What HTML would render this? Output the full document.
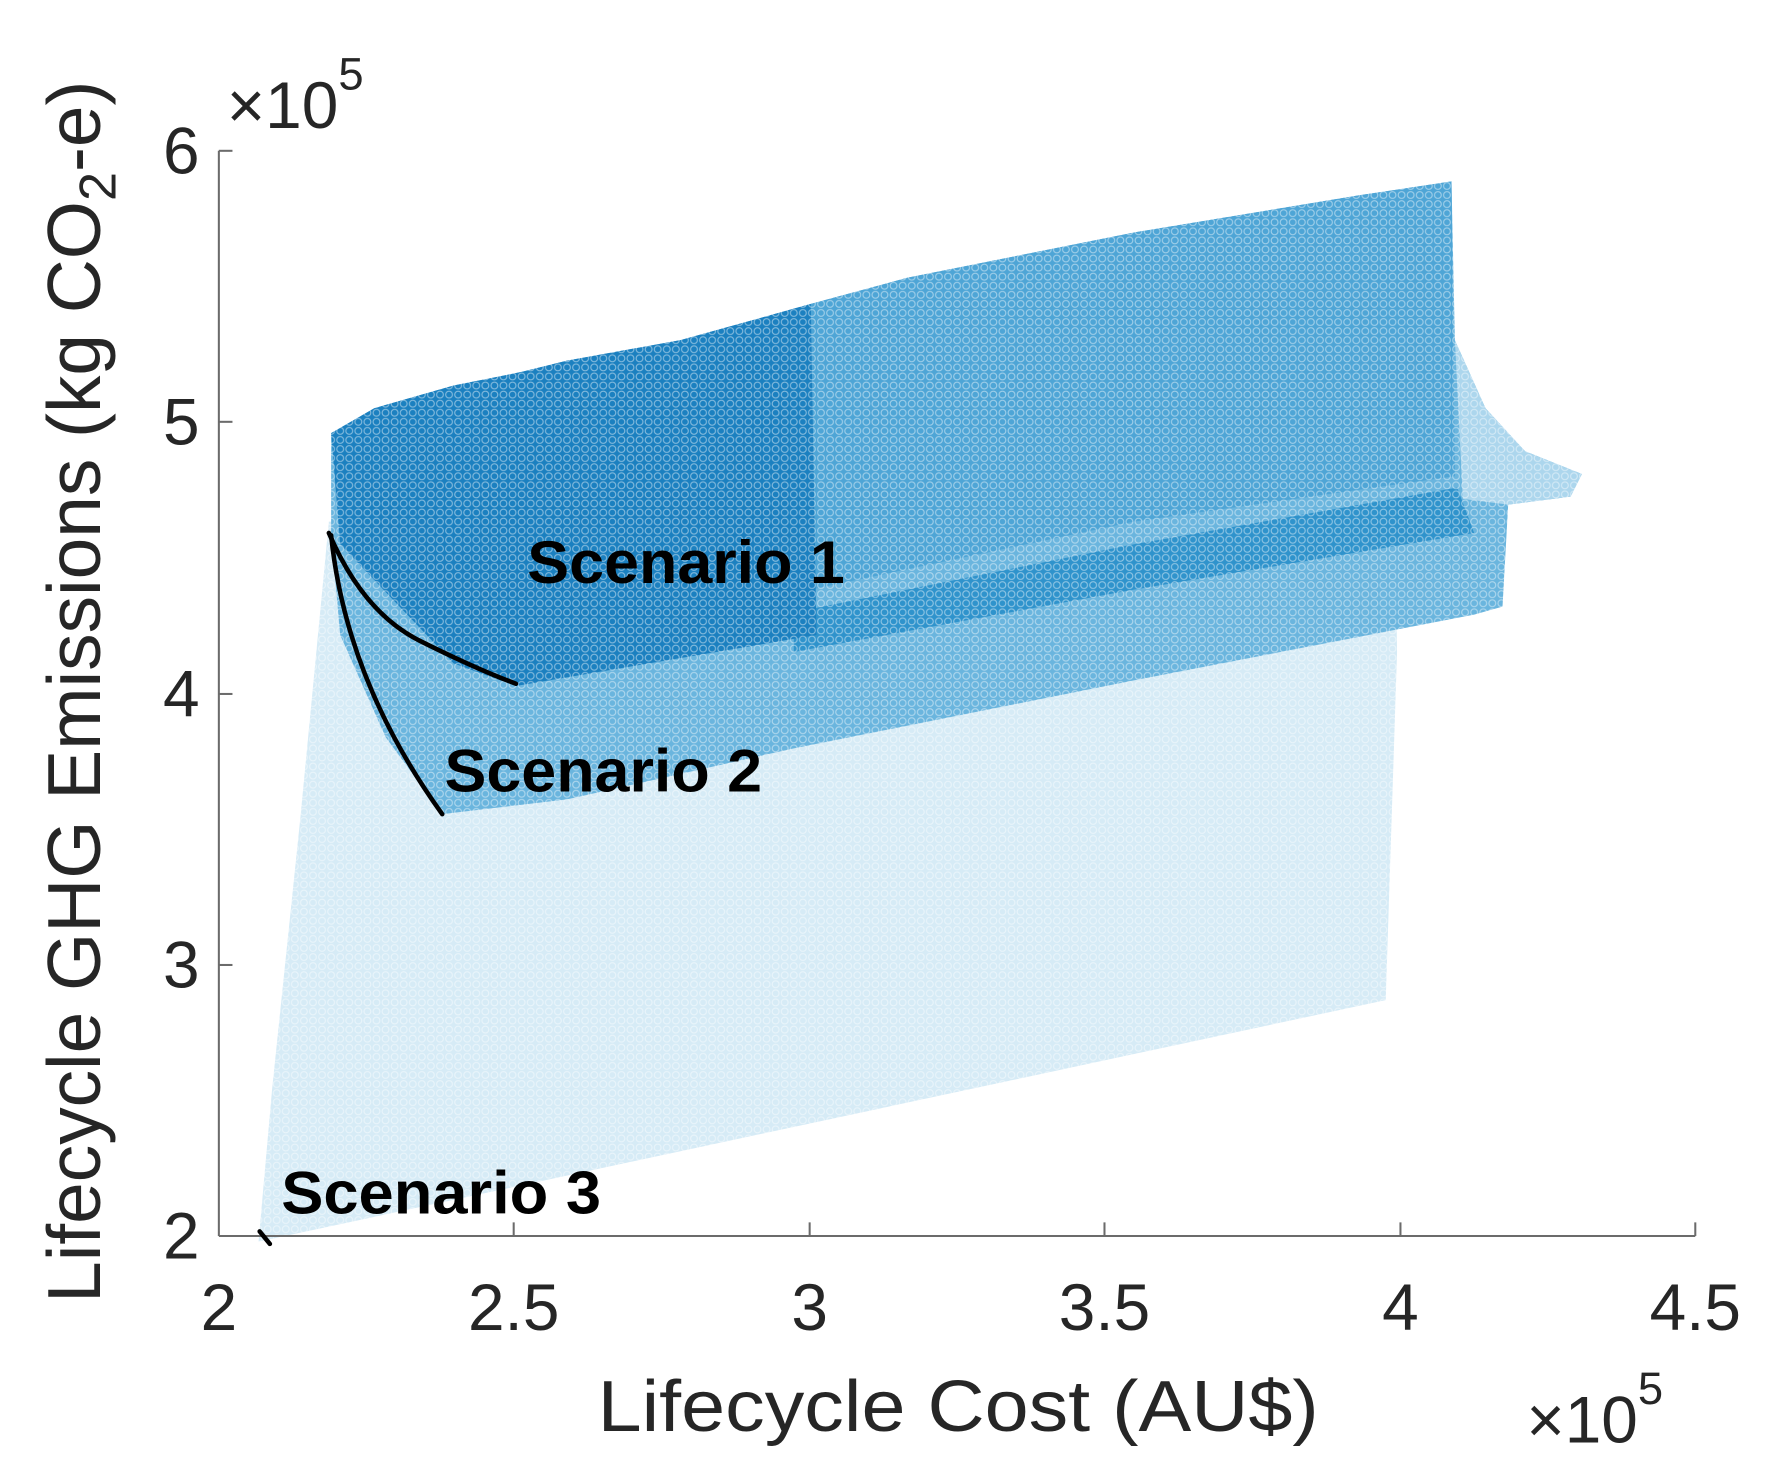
<!DOCTYPE html>
<html><head><meta charset="utf-8"><style>
html,body{margin:0;padding:0;background:#fff;}
svg{display:block;}
text{font-family:"Liberation Sans",Arial,sans-serif;fill:#262626;}
</style></head><body>
<svg width="1769" height="1469" viewBox="0 0 1560 1295.5" preserveAspectRatio="none" xmlns="http://www.w3.org/2000/svg">
<defs>
<pattern id="circ" width="8" height="8" patternUnits="userSpaceOnUse">
<circle cx="4" cy="4" r="3" fill="none" stroke="#fff" stroke-opacity="0.45" stroke-width="1"/>
</pattern>
</defs>
<polygon points="228,1095 240,960 265,720 290,460 1230,460 1232,575 1222,882" fill="#d6ebf6"/>
<polygon points="292,382 330,360 400,340 460,328 500,318 600,300 715,268 800,245 1000,205 1200,172 1280,160 1283,300 1310,360 1345,398 1395,418 1385,438 1330,445 1325,535 1300,542 1000,600 700,660 500,705 390,718 340,650 300,560 292,470" fill="#6ab5de"/>
<polygon points="1283,300 1310,360 1345,398 1395,418 1385,438 1330,445 1290,440" fill="#acd6ed"/>
<polygon points="715,268 800,245 1000,205 1200,172 1280,160 1283,420 1000,460 715,520" fill="#4ea5d6"/>
<polygon points="700,540 1000,480 1285,430 1300,470 1000,520 700,575" fill="#2f93cc"/>
<polygon points="292,382 330,360 400,340 460,328 500,318 600,300 715,268 720,560 455,605 400,585 300,480" fill="#1b80c0"/>
<rect x="190" y="130" width="1310" height="965" fill="url(#circ)"/>
<g stroke="#6b6b6b" stroke-width="1.8" fill="none">
<line x1="193" y1="133" x2="193" y2="1090"/>
<line x1="193" y1="1090" x2="1495" y2="1090"/>
<line x1="193" y1="133" x2="205" y2="133"/>
<line x1="193" y1="372" x2="205" y2="372"/>
<line x1="193" y1="612" x2="205" y2="612"/>
<line x1="193" y1="851" x2="205" y2="851"/>
<line x1="453" y1="1090" x2="453" y2="1078"/>
<line x1="714" y1="1090" x2="714" y2="1078"/>
<line x1="974" y1="1090" x2="974" y2="1078"/>
<line x1="1235" y1="1090" x2="1235" y2="1078"/>
<line x1="1495" y1="1090" x2="1495" y2="1078"/>
</g>
<g stroke="#000" stroke-width="4" fill="none" stroke-linecap="round">
<path d="M290,470 Q320,540 370,565 T455,603"/>
<path d="M292,472 Q305,600 390,718"/>
<path d="M229,1086 L238,1097"/>
</g>
<g font-weight="bold" font-size="53">
<text x="465" y="514" style="fill:#000" textLength="280" lengthAdjust="spacingAndGlyphs">Scenario 1</text>
<text x="392" y="698" style="fill:#000" textLength="280" lengthAdjust="spacingAndGlyphs">Scenario 2</text>
<text x="248" y="1070" style="fill:#000" textLength="282" lengthAdjust="spacingAndGlyphs">Scenario 3</text>
</g>
<g font-size="58" text-anchor="middle">
<text x="193" y="1173">2</text>
<text x="453" y="1173">2.5</text>
<text x="714" y="1173">3</text>
<text x="974" y="1173">3.5</text>
<text x="1235" y="1173">4</text>
<text x="1495" y="1173">4.5</text>
</g>
<g font-size="58" text-anchor="end">
<text x="176" y="153">6</text>
<text x="176" y="392">5</text>
<text x="176" y="632">4</text>
<text x="176" y="871">3</text>
<text x="176" y="1110">2</text>
</g>
<text x="200" y="113" font-size="58">×10<tspan font-size="40" dy="-34">5</tspan></text>
<text x="1346" y="1272" font-size="58">×10<tspan font-size="40" dy="-34">5</tspan></text>
<text x="845" y="1262" font-size="64" text-anchor="middle" textLength="636" lengthAdjust="spacingAndGlyphs">Lifecycle Cost (AU$)</text>
<text transform="translate(88,610) rotate(-90)" font-size="66" text-anchor="middle">Lifecycle GHG Emissions (kg CO<tspan font-size="46" dy="14">2</tspan><tspan dy="-14">-e)</tspan></text>
</svg>
</body></html>
